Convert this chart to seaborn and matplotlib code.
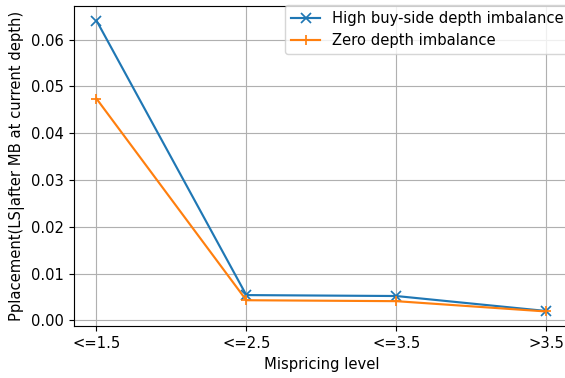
import matplotlib
matplotlib.use("Agg")
import matplotlib.pyplot as plt
import seaborn as sns
import pandas as pd

# Mispricing buckets and placement probabilities per depth-imbalance regime
levels = ["<=1.5", "<=2.5", "<=3.5", ">3.5"]
high_buy_side = [0.0641, 0.0054, 0.0052, 0.0020]
zero_imbalance = [0.0474, 0.0043, 0.0041, 0.0019]

series_names = ["High buy-side depth imbalance", "Zero depth imbalance"]
series_markers = ["x", "+"]
series_colors = ["#1f77b4", "#ff7f0e"]

df = pd.DataFrame({
    "level": levels * 2,
    "prob": high_buy_side + zero_imbalance,
    "series": [series_names[0]] * len(levels) + [series_names[1]] * len(levels),
})

plt.rcParams["font.size"] = 10.3

DPI = 103
W, H = 565, 378
fig = plt.figure(figsize=(W / DPI, H / DPI), dpi=DPI)
ax = fig.add_axes([74 / W, 1 - 326 / H, (568.5 - 74) / W, 320 / H])

for name, mk, col in zip(series_names, series_markers, series_colors):
    sub = df[df["series"] == name]
    sns.lineplot(data=sub, x="level", y="prob", ax=ax, label=name,
                 marker=mk, color=col, linewidth=1.5, markersize=7,
                 markeredgecolor=col, markeredgewidth=1.2)

ax.grid(True, color="#b0b0b0", linewidth=0.8)
ax.set_axisbelow(True)
ax.set_xlabel("Mispricing level")
ax.set_ylabel("Pplacement(LS|after MB at current depth)")
ax.legend(loc="upper left", bbox_to_anchor=(285 / W, 1 - 5 / H),
          bbox_transform=fig.transFigure, borderaxespad=0)

fig.savefig("out.png", dpi=DPI)
